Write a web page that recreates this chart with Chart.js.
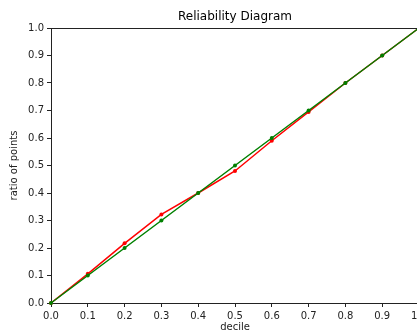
<!DOCTYPE html>
<html>
<head>
<meta charset="utf-8">
<script src="https://cdn.jsdelivr.net/npm/chart.js@4.4.0/dist/chart.umd.min.js"></script>
<style>
  html, body { margin: 0; padding: 0; overflow: hidden; background: #fff; }
  #wrap { position: absolute; left: 0; top: 0; width: 430px; height: 333px; }
</style>
</head>
<body>
<div id="wrap"><canvas id="reliability"></canvas></div>
<script>
var deciles = [0.0, 0.1, 0.2, 0.3, 0.4, 0.5, 0.6, 0.7, 0.8, 0.9, 1.0];
var observed = [0.0, 0.106, 0.217, 0.322, 0.40, 0.48, 0.59, 0.695, 0.8, 0.9, 1.0];
var ideal = [0.0, 0.1, 0.2, 0.3, 0.4, 0.5, 0.6, 0.7, 0.8, 0.9, 1.0];

function toPoints(xs, ys) {
    return xs.map(function (x, i) { return { x: x, y: ys[i] }; });
}

// matplotlib draws a top spine too
var topSpine = {
    id: 'topSpine',
    afterDatasetsDraw: function (chart) {
        var a = chart.chartArea, ctx = chart.ctx;
        ctx.save();
        ctx.strokeStyle = '#222';
        ctx.lineWidth = 1;
        ctx.beginPath();
        ctx.moveTo(a.left, a.top + 0.5);
        ctx.lineTo(a.right, a.top + 0.5);
        ctx.stroke();
        ctx.restore();
    }
};

var font = { family: 'DejaVu Sans', size: 10 };

var ctx = document.getElementById('reliability').getContext('2d');
var chart = new Chart(ctx, {
    type: 'line',
    data: {
        datasets: [{
            label: 'perfect',
            data: toPoints(deciles, ideal),
            borderColor: '#008000',
            backgroundColor: '#008000',
            borderWidth: 1.5,
            pointRadius: 2,
            pointBorderWidth: 0,
            clip: false
        },
        {
            label: 'model',
            data: toPoints(deciles, observed),
            borderColor: '#ff0000',
            backgroundColor: '#ff0000',
            borderWidth: 1.5,
            pointRadius: 2,
            pointBorderWidth: 0,
            clip: false
        }]
    },
    options: {
        responsive: true,
        maintainAspectRatio: false,
        animation: false,
        layout: { padding: { left: 0, right: 11, top: 0, bottom: 0 } },
        plugins: {
            legend: { display: false },
            tooltip: { enabled: false },
            title: {
                display: true,
                text: 'Reliability Diagram',
                fullSize: false,
                color: '#000',
                font: { family: 'DejaVu Sans', size: 12, weight: 'normal' },
                padding: { top: 10, bottom: 3.6 }
            }
        },
        scales: {
            x: {
                type: 'linear',
                min: 0,
                max: 1,
                afterFit: function (s) { s.height = 30; },
                ticks: {
                    stepSize: 0.1,
                    color: '#222',
                    font: font,
                    padding: 3,
                    maxRotation: 0,
                    callback: function (v) { return v.toFixed(1); }
                },
                grid: { drawOnChartArea: false, drawTicks: true, tickLength: 4, color: '#222' },
                border: { display: true, color: '#222', width: 1 },
                title: { display: true, text: 'decile', color: '#222', font: font, padding: { top: 0, bottom: 0 } }
            },
            y: {
                type: 'linear',
                min: 0,
                max: 1,
                afterFit: function (s) { s.width = 51; },
                ticks: {
                    stepSize: 0.1,
                    color: '#222',
                    font: font,
                    padding: 3,
                    callback: function (v) { return v.toFixed(1); }
                },
                grid: { drawOnChartArea: false, drawTicks: true, tickLength: 4, color: '#222' },
                border: { display: true, color: '#222', width: 1 },
                title: { display: true, text: 'ratio of points', color: '#222', font: font, padding: { top: 8, bottom: 0 } }
            }
        }
    },
    plugins: [topSpine]
});
</script>
</body>
</html>
